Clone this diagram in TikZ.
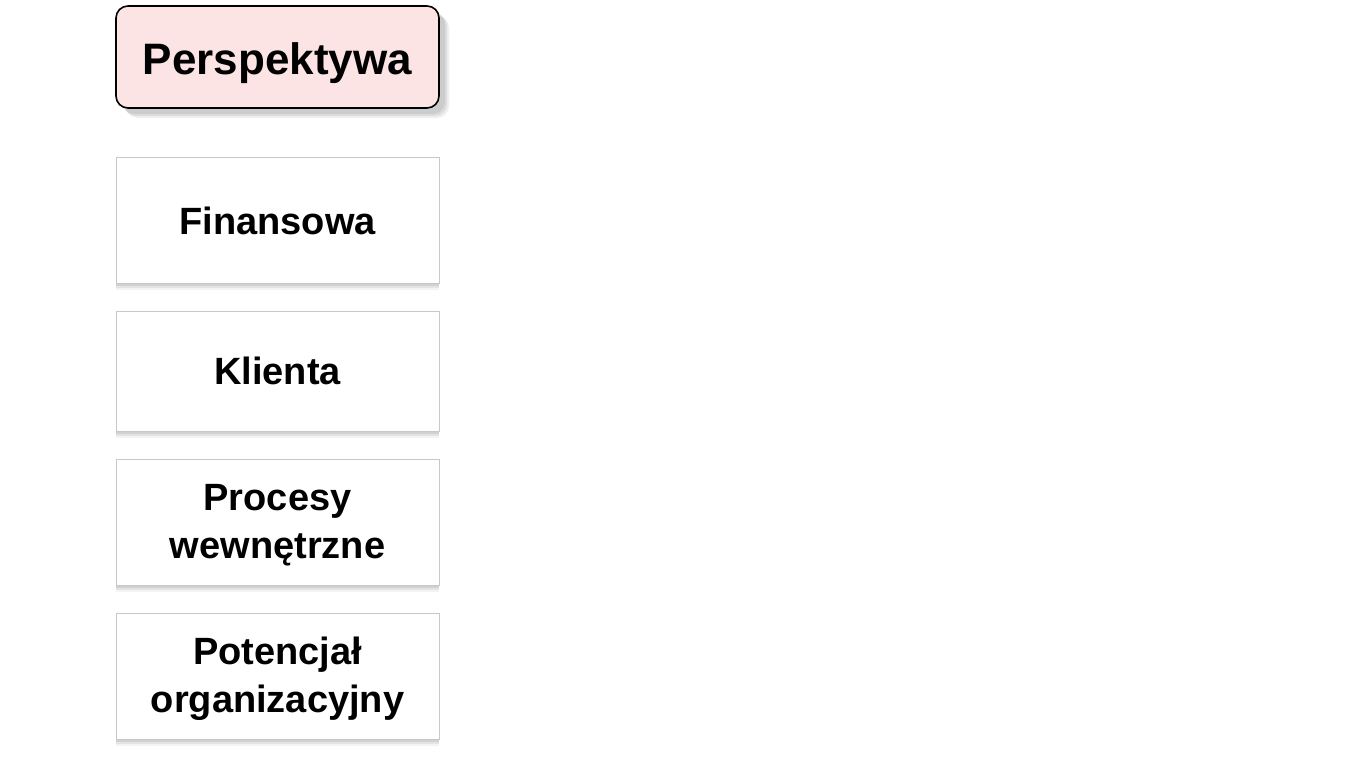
\documentclass[tikz,border=0pt]{standalone}
\usepackage{fontspec}
\setmainfont{Liberation Sans}
\usetikzlibrary{shadows}
\definecolor{headpink}{HTML}{FCE4E4}
\definecolor{boxline}{HTML}{C8C8C8}
\definecolor{shadowgrey}{HTML}{A8A8A8}
\begin{document}
\begin{tikzpicture}[x=1pt,y=-1pt,
  headbox/.style={draw=black, line width=1.6pt, fill=headpink, rounded corners=12pt,
    minimum width=323pt, minimum height=102pt, inner sep=0pt,
    drop shadow={shadow xshift=10pt, shadow yshift=-10pt, fill=shadowgrey, opacity=0.18},
    drop shadow={shadow xshift=8pt, shadow yshift=-8pt, fill=shadowgrey, opacity=0.25},
    drop shadow={shadow xshift=6pt, shadow yshift=-6pt, fill=shadowgrey, opacity=0.3}},
  perbox/.style={draw=boxline, line width=1pt, fill=white,
    minimum width=323pt, inner sep=0pt,
    drop shadow={shadow xshift=0pt, shadow yshift=-7pt, fill=shadowgrey, opacity=0.12},
    drop shadow={shadow xshift=0pt, shadow yshift=-5pt, fill=shadowgrey, opacity=0.2},
    drop shadow={shadow xshift=0pt, shadow yshift=-3pt, fill=shadowgrey, opacity=0.3}},
  headtxt/.style={inner sep=0pt, font=\fontsize{44}{50}\selectfont\bfseries},
  pertxt/.style={inner sep=0pt, align=center, font=\fontsize{38}{48}\selectfont\bfseries}]
\useasboundingbox (0,0) rectangle (1370,768);
\fill[white] (0,0) rectangle (1370,768);
\node[headbox] (head) at (277.5,57) {};
\node[headtxt] (headt) at ([yshift=-6pt]head.center) {Perspektywa};
\node[perbox, minimum height=126pt] (fin) at (277.5,220) {};
\node[pertxt] (fint) at ([yshift=-1pt]fin.center) {Finansowa};
\node[perbox, minimum height=120pt] (kli) at (277.5,371) {};
\node[pertxt] (klit) at (kli.center) {Klienta};
\node[perbox, minimum height=126pt] (pro) at (277.5,522) {};
\node[pertxt] (prot) at ([yshift=-3pt]pro.center) {Procesy\\wewnętrzne};
\node[perbox, minimum height=126pt] (pot) at (277.5,676) {};
\node[pertxt] (pott) at ([yshift=-3pt]pot.center) {Potencjał\\organizacyjny};
\end{tikzpicture}
\end{document}
